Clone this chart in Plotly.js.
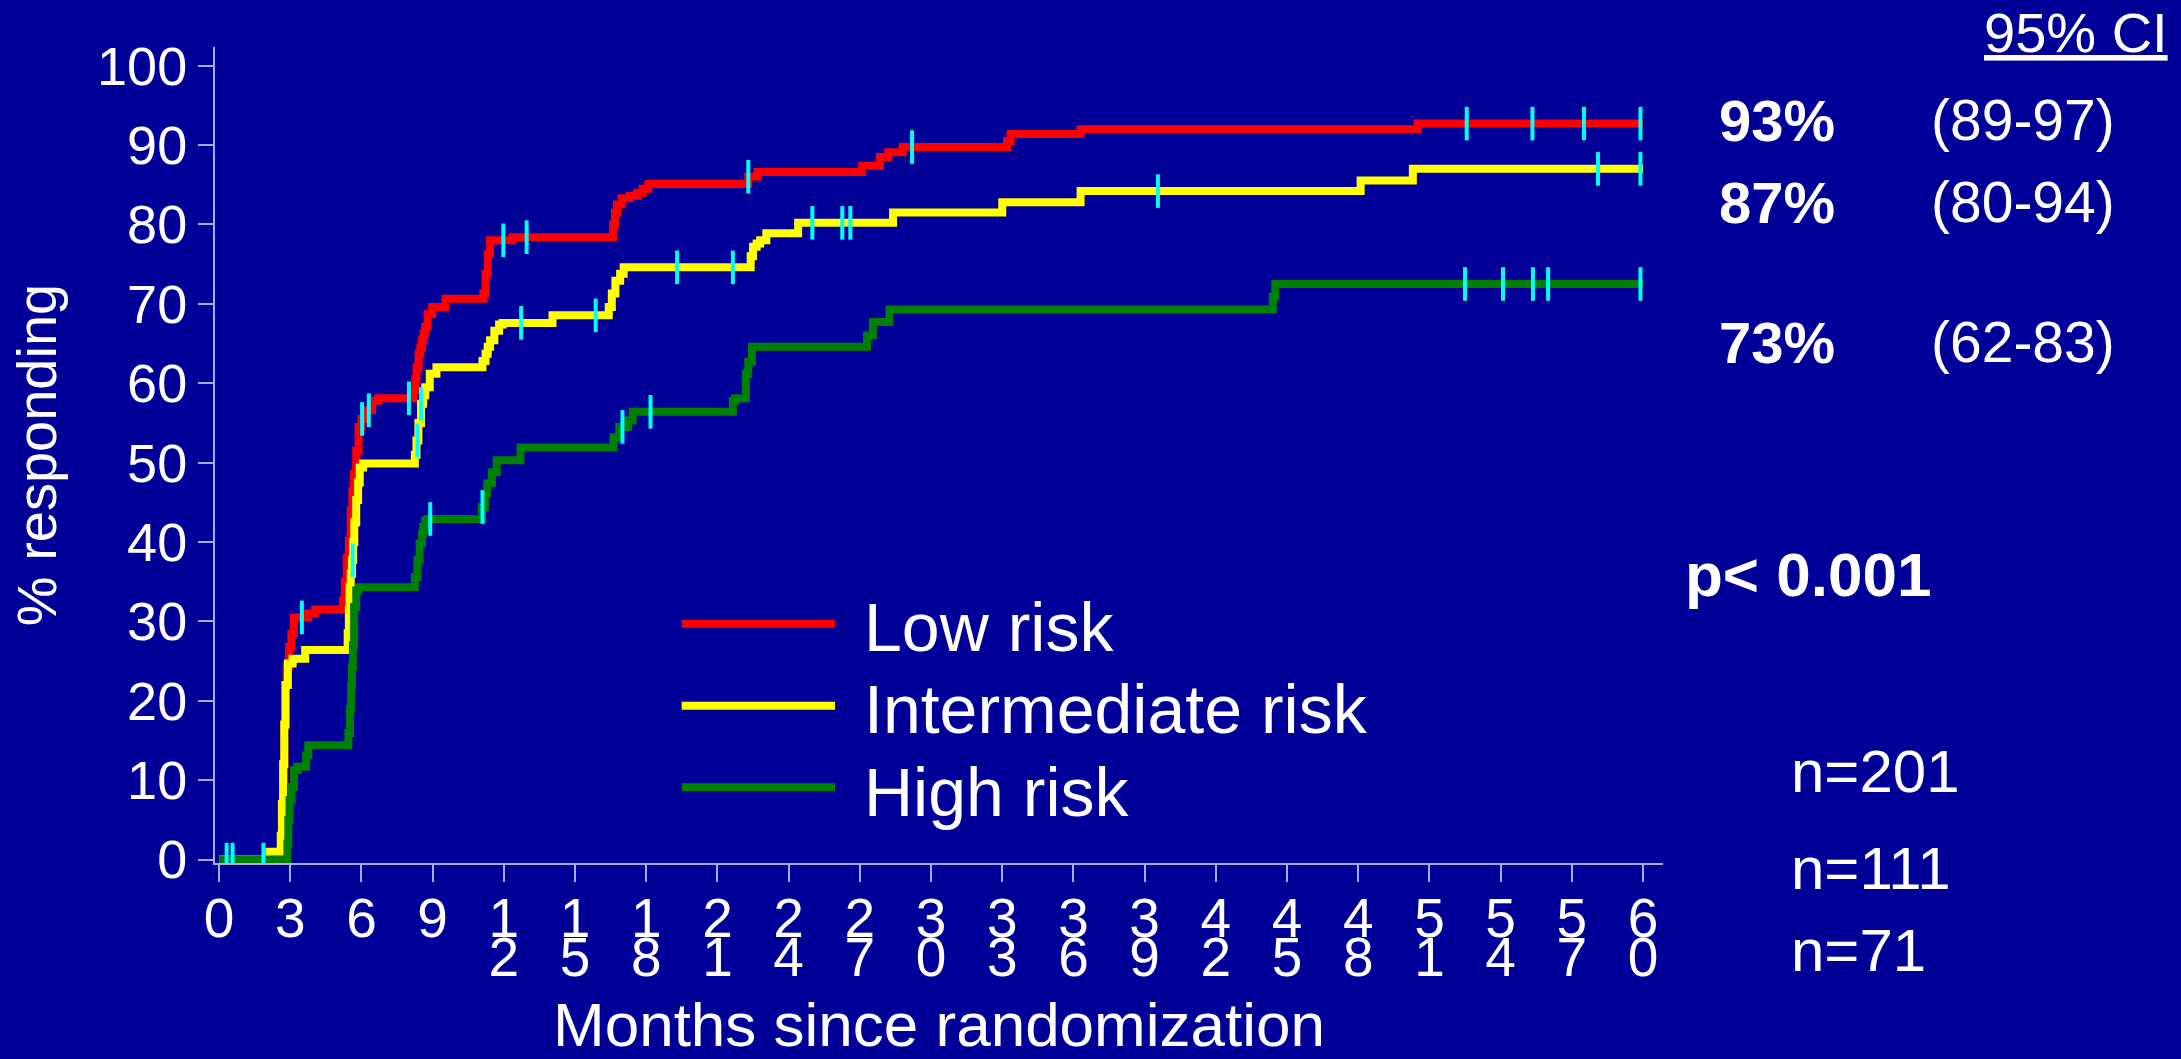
<!DOCTYPE html>
<html>
<head>
<meta charset="utf-8">
<script src="https://cdn.plot.ly/plotly-3.0.1.min.js"></script>
<style>
html, body { margin: 0; padding: 0; background: #000099; }
#chart { width: 2181px; height: 1059px; }
</style>
</head>
<body>
<div id="chart"></div>
<script>
// ---------------- DATA ----------------
const seriesNames = ['Low risk', 'Intermediate risk', 'High risk'];

const lowRiskMonths = [0, 2.65, 2.7, 2.75, 2.8, 2.85, 2.95, 3.05, 3.15, 3.75, 4.05, 5.22, 5.3, 5.38, 5.47, 5.55, 5.62, 5.69, 5.78, 5.88, 6.0, 6.1, 6.45, 6.72, 8.19, 8.27, 8.32, 8.41, 8.48, 8.55, 8.62, 8.69, 8.79, 8.98, 9.54, 11.14, 11.23, 11.32, 11.42, 12.36, 16.6, 16.68, 16.77, 16.96, 17.3, 17.62, 17.85, 18.09, 22.3, 22.69, 27.1, 27.85, 28.2, 28.8, 33.2, 33.35, 36.3, 50.5, 60];
const lowRiskPct = [0, 5, 10, 17, 22, 24.3, 26.8, 28.4, 30.5, 31.0, 31.5, 32.6, 35, 38, 40.2, 44, 46.5, 48.6, 51.5, 54.5, 55.5, 56.6, 57.8, 58.1, 59.1, 60.5, 62.0, 63.7, 64.5, 65.4, 66.3, 67.1, 68.7, 69.6, 70.65, 71.3, 73.8, 76.3, 78.0, 78.4, 80.0, 81.5, 82.5, 83.3, 83.6, 84.0, 84.5, 85.1, 86.0, 86.6, 87.4, 88.5, 89.1, 89.75, 90.5, 91.4, 92.0, 92.7, 92.7];
const lowRiskCensored = [0.32, 3.49, 6.03, 6.31, 8.0, 11.98, 12.96, 22.3, 29.2, 52.57, 55.34, 57.51, 59.89];

const intermediateRiskMonths = [0, 2.12, 2.6, 2.65, 2.7, 2.75, 2.8, 2.9, 3.1, 3.63, 5.42, 5.47, 5.5, 5.55, 5.6, 5.65, 5.7, 5.78, 5.86, 5.93, 6.07, 8.25, 8.32, 8.4, 8.51, 8.6, 8.69, 8.88, 9.16, 11.1, 11.23, 11.32, 11.42, 11.6, 11.8, 11.95, 14.05, 16.42, 16.55, 16.7, 16.9, 17.05, 22.4, 22.5, 22.65, 22.8, 23.06, 24.4, 28.4, 33.0, 36.3, 48.1, 50.3, 60];
const intermediateRiskPct = [0, 1.0, 3, 7, 12, 17, 22, 24.7, 25.3, 26.4, 28.5, 31.5, 34.3, 36, 37.7, 40, 42.5, 45.3, 47.5, 49.4, 49.9, 51, 52.8, 55, 57.4, 58.5, 59.5, 61.2, 62.0, 62.8, 63.7, 64.6, 65.4, 66.6, 67.4, 67.6, 68.55, 69.6, 71.3, 72.9, 73.8, 74.6, 76.0, 77.2, 77.6, 78.0, 78.9, 80.2, 81.5, 82.8, 84.2, 85.55, 87.0, 87.0];
const intermediateRiskCensored = [0.57, 5.63, 8.36, 8.51, 12.73, 15.87, 19.3, 21.65, 25.0, 26.26, 26.6, 39.56, 58.1, 59.89];

const highRiskMonths = [0, 2.88, 2.92, 2.97, 3.06, 3.16, 3.3, 3.67, 3.76, 5.45, 5.52, 5.57, 5.6, 5.64, 5.69, 5.78, 5.88, 8.25, 8.36, 8.45, 8.55, 8.6, 8.69, 8.79, 11.08, 11.2, 11.3, 11.5, 11.7, 12.7, 16.62, 16.86, 17.24, 17.43, 21.65, 21.75, 22.2, 22.3, 22.45, 27.3, 27.55, 28.25, 44.4, 44.5, 60];
const highRiskPct = [0, 2, 5, 7.5, 9.1, 11.25, 11.7, 13.1, 14.4, 15.9, 19, 22, 24.3, 27, 31.8, 33.9, 34.3, 35.6, 37.7, 39.8, 41.0, 41.9, 42.7, 42.9, 44.4, 46.1, 47.4, 48.8, 50.3, 51.9, 53.2, 54.5, 55.3, 56.4, 57.8, 58.1, 61.2, 62.7, 64.6, 66.0, 67.7, 69.3, 70.9, 72.5, 72.5];
const highRiskCensored = [1.87, 8.9, 11.1, 17.0, 18.18, 52.5, 54.1, 55.36, 56.0, 59.89];

const xTickVals = [0, 3, 6, 9, 12, 15, 18, 21, 24, 27, 30, 33, 36, 39, 42, 45, 48, 51, 54, 57, 60];
const xTickLine1 = ['0', '3', '6', '9', '1', '1', '1', '2', '2', '2', '3', '3', '3', '3', '4', '4', '4', '5', '5', '5', '6'];
const xTickLine2 = ['', '', '', '', '2', '5', '8', '1', '4', '7', '0', '3', '6', '9', '2', '5', '8', '1', '4', '7', '0'];
const yTickVals = [0, 10, 20, 30, 40, 50, 60, 70, 80, 90, 100];

const estimateLabels = ['93%', '87%', '73%'];
const ciLabels = ['(89-97)', '(80-94)', '(62-83)'];
const nLabels = ['n=201', 'n=111', 'n=71'];
const pValueLabel = 'p< 0.001';
const ciHeader = '95% CI';
const xTitle = 'Months since randomization';
const yTitle = '% responding';

// ---------------- STYLE ----------------
const FONT = 'Liberation Sans, Arial, Helvetica, sans-serif';
const BG = '#000099';
const AXIS = '#aaaae6';
const colors = ['#ff0000', '#ffff00', '#008000'];
const CENSOR = '#00ffff';

const W = 2181, H = 1059;
const M = { l: 215, r: 518, t: 47, b: 196 };
const PW = W - M.l - M.r, PH = H - M.t - M.b;
const px = X => (X - M.l) / PW;
const py = Y => (H - M.b - Y) / PH;

function stepAt(xs, ys, t) {
  let v = ys[0];
  for (let i = 0; i < xs.length; i++) { if (xs[i] <= t) v = ys[i]; }
  return v;
}

const curves = [
  [lowRiskMonths, lowRiskPct, lowRiskCensored],
  [intermediateRiskMonths, intermediateRiskPct, intermediateRiskCensored],
  [highRiskMonths, highRiskPct, highRiskCensored]
];

const traces = [];
curves.forEach((c, i) => {
  traces.push({
    type: 'scatter', mode: 'lines', name: seriesNames[i],
    x: c[0], y: c[1],
    line: { shape: 'hv', color: colors[i], width: 8 },
    hoverinfo: 'skip'
  });
});
curves.forEach((c, i) => {
  traces.push({
    type: 'scatter', mode: 'markers', name: seriesNames[i] + ' censored',
    x: c[2], y: c[2].map(t => stepAt(c[0], c[1], t)),
    marker: { symbol: 'line-ns', size: 24, color: CENSOR, line: { color: CENSOR, width: 4 } },
    hoverinfo: 'skip'
  });
});
// carrier for the second row of x tick labels (no visible mark)
traces.push({ type: 'scatter', mode: 'markers', x: [0], y: [null], xaxis: 'x2', yaxis: 'y',
  hoverinfo: 'skip', showlegend: false, marker: { opacity: 0 } });

const shapes = [];
const annotations = [];
const legendLineY = [623.8, 705.7, 787.3];
const legendTextY = [626.7, 709, 791.7];
seriesNames.forEach((n, i) => {
  shapes.push({ type: 'line', xref: 'paper', yref: 'paper',
    x0: px(681.7), x1: px(835), y0: py(legendLineY[i]), y1: py(legendLineY[i]),
    line: { color: colors[i], width: 8 } });
  annotations.push({ xref: 'paper', yref: 'paper', x: px(862), y: py(legendTextY[i]),
    xanchor: 'left', yanchor: 'middle', showarrow: false, text: n,
    font: { family: FONT, size: 68, color: '#ffffff' } });
});

const rowY = [120, 202, 342];
estimateLabels.forEach((t, i) => {
  annotations.push({ xref: 'paper', yref: 'paper', x: px(1717), y: py(rowY[i]),
    xanchor: 'left', yanchor: 'middle', showarrow: false, text: '<b>' + t + '</b>',
    font: { family: FONT, size: 58, color: '#ffffff' } });
  annotations.push({ xref: 'paper', yref: 'paper', x: px(1929), y: py(rowY[i]),
    xanchor: 'left', yanchor: 'middle', showarrow: false, text: ciLabels[i],
    font: { family: FONT, size: 57, color: '#ffffff' } });
});
annotations.push({ xref: 'paper', yref: 'paper', x: px(2170), y: py(32.5),
  xanchor: 'right', yanchor: 'middle', showarrow: false, text: '<u>' + ciHeader + '</u>',
  font: { family: FONT, size: 56, color: '#ffffff' } });
annotations.push({ xref: 'paper', yref: 'paper', x: px(1683), y: py(574.5),
  xanchor: 'left', yanchor: 'middle', showarrow: false, text: '<b>' + pValueLabel + '</b>',
  font: { family: FONT, size: 62, color: '#ffffff' } });
const nY = [771.7, 868.3, 950];
nLabels.forEach((t, i) => {
  annotations.push({ xref: 'paper', yref: 'paper', x: px(1789), y: py(nY[i]),
    xanchor: 'left', yanchor: 'middle', showarrow: false, text: t,
    font: { family: FONT, size: 60, color: '#ffffff' } });
});

const xRange = [-0.17, 60.84];
const layout = {
  width: W, height: H,
  paper_bgcolor: BG, plot_bgcolor: BG,
  margin: { l: M.l, r: M.r, t: M.t, b: M.b, pad: 0 },
  showlegend: false,
  font: { family: FONT, color: '#ffffff' },
  xaxis: {
    range: xRange, autorange: false, tickmode: 'array', tickvals: xTickVals, ticktext: xTickLine1,
    ticks: 'outside', ticklen: 17, tickwidth: 2, tickcolor: AXIS,
    showline: true, linecolor: AXIS, linewidth: 2, showgrid: false, zeroline: false,
    tickfont: { family: FONT, size: 55, color: '#ffffff' },
    ticklabelstandoff: -11,
    title: { text: xTitle, font: { family: FONT, size: 62, color: '#ffffff' }, standoff: 75 },
    fixedrange: true
  },
  xaxis2: {
    overlaying: 'x', anchor: 'y', side: 'bottom',
    range: xRange, autorange: false, tickmode: 'array', tickvals: xTickVals, ticktext: xTickLine2,
    ticks: 'outside', ticklen: 17, tickwidth: 2, tickcolor: 'rgba(0,0,0,0)',
    showline: false, showgrid: false, zeroline: false,
    tickfont: { family: FONT, size: 55, color: '#ffffff' },
    ticklabelstandoff: 29, fixedrange: true
  },
  yaxis: {
    range: [-0.43, 102.35], autorange: false, tickmode: 'array', tickvals: yTickVals,
    ticks: 'outside', ticklen: 15, tickwidth: 2, tickcolor: AXIS,
    showline: true, linecolor: AXIS, linewidth: 2, showgrid: false, zeroline: false,
    tickfont: { family: FONT, size: 54, color: '#ffffff' },
    ticklabelstandoff: 0,
    title: { text: yTitle, font: { family: FONT, size: 56, color: '#ffffff' }, standoff: 22 },
    fixedrange: true
  },
  shapes: shapes,
  annotations: annotations
};

Plotly.newPlot('chart', traces, layout, { displayModeBar: false, staticPlot: true });
</script>
</body>
</html>
